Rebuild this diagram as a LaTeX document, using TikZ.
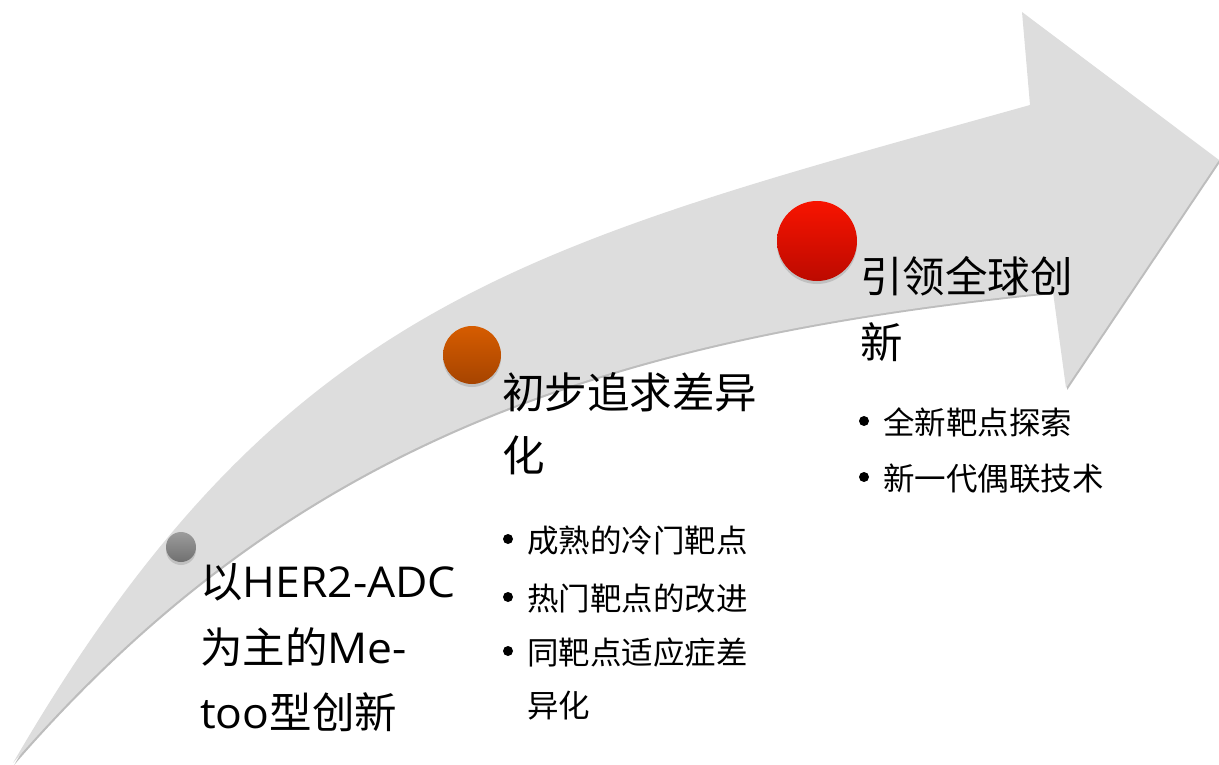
\documentclass[tikz,border=0pt]{standalone}
\usepackage{fontspec}
\newfontfamily\cjk{Noto Sans CJK SC}
\newfontfamily\lat[FakeStretch=1.045]{Open Sans}
\usetikzlibrary{shadows}
\definecolor{arrowgray}{HTML}{DDDDDD}
\definecolor{shadowgray}{HTML}{BDBDBD}
\definecolor{gtop}{HTML}{9C9C9C}
\definecolor{gbot}{HTML}{707070}
\definecolor{otop}{HTML}{D65C00}
\definecolor{obot}{HTML}{A64400}
\definecolor{rtop}{HTML}{F81400}
\definecolor{rbot}{HTML}{BC0A00}
\begin{document}
\begin{tikzpicture}[x=1pt,y=-1pt,
  title/.style={anchor=base west, inner sep=0pt, font=\fontsize{42.5}{50}\cjk},
  item/.style={anchor=base west, inner sep=0pt, font=\fontsize{31.5}{38}\cjk},
  bul/.style={circle, fill=black, inner sep=0pt, minimum size=10pt},
  ball/.style={circle, inner sep=0pt, drop shadow={shadow xshift=0pt, shadow yshift=-3pt, opacity=0.3}}]
\useasboundingbox (0,0) rectangle (1219,765);
% big curved arrow
\fill[arrowgray, preaction={fill=shadowgray, transform canvas={shift={(1.3pt,-1.8pt)}}}]
  (13,763) .. controls (283,298) and (530,245) .. (1030,105)
  -- (1022,12) -- (1219,160) -- (1066,388) -- (1053,292)
  .. controls (603,337) and (291,443) .. (13,763)
  -- cycle;
% balls
\node[ball, minimum size=30pt, top color=gtop, bottom color=gbot] (p1) at (181,547) {};
\node[ball, minimum size=58pt, top color=otop, bottom color=obot] (p2) at (472,355) {};
\node[ball, minimum size=80pt, top color=rtop, bottom color=rbot] (p3) at (817,241) {};
% stage 1
\node[title] (t1a) at (200,597) {以{\lat HER2-ADC}};
\node[title] (t1b) at (200,663) {为主的{\lat Me-}};
\node[title] (t1c) at (200,728) {{\lat too}型创新};
% stage 2
\node[title] (t2a) at (502,408) {初步追求差异};
\node[title] (t2b) at (502,471) {化};
\node[bul] (b2a) at (508,539) {};
\node[item] (i2a) at (527,552) {成熟的冷门靶点};
\node[bul] (b2b) at (508,597) {};
\node[item] (i2b) at (527,610) {热门靶点的改进};
\node[bul] (b2c) at (508,651) {};
\node[item] (i2c) at (527,664) {同靶点适应症差};
\node[item] (i2d) at (527,717) {异化};
% stage 3
\node[title] (t3a) at (860,292) {引领全球创};
\node[title] (t3b) at (860,358) {新};
\node[bul] (b3a) at (864,421) {};
\node[item] (i3a) at (883,434) {全新靶点探索};
\node[bul] (b3b) at (864,477) {};
\node[item] (i3b) at (883,490) {新一代偶联技术};
\end{tikzpicture}
\end{document}
